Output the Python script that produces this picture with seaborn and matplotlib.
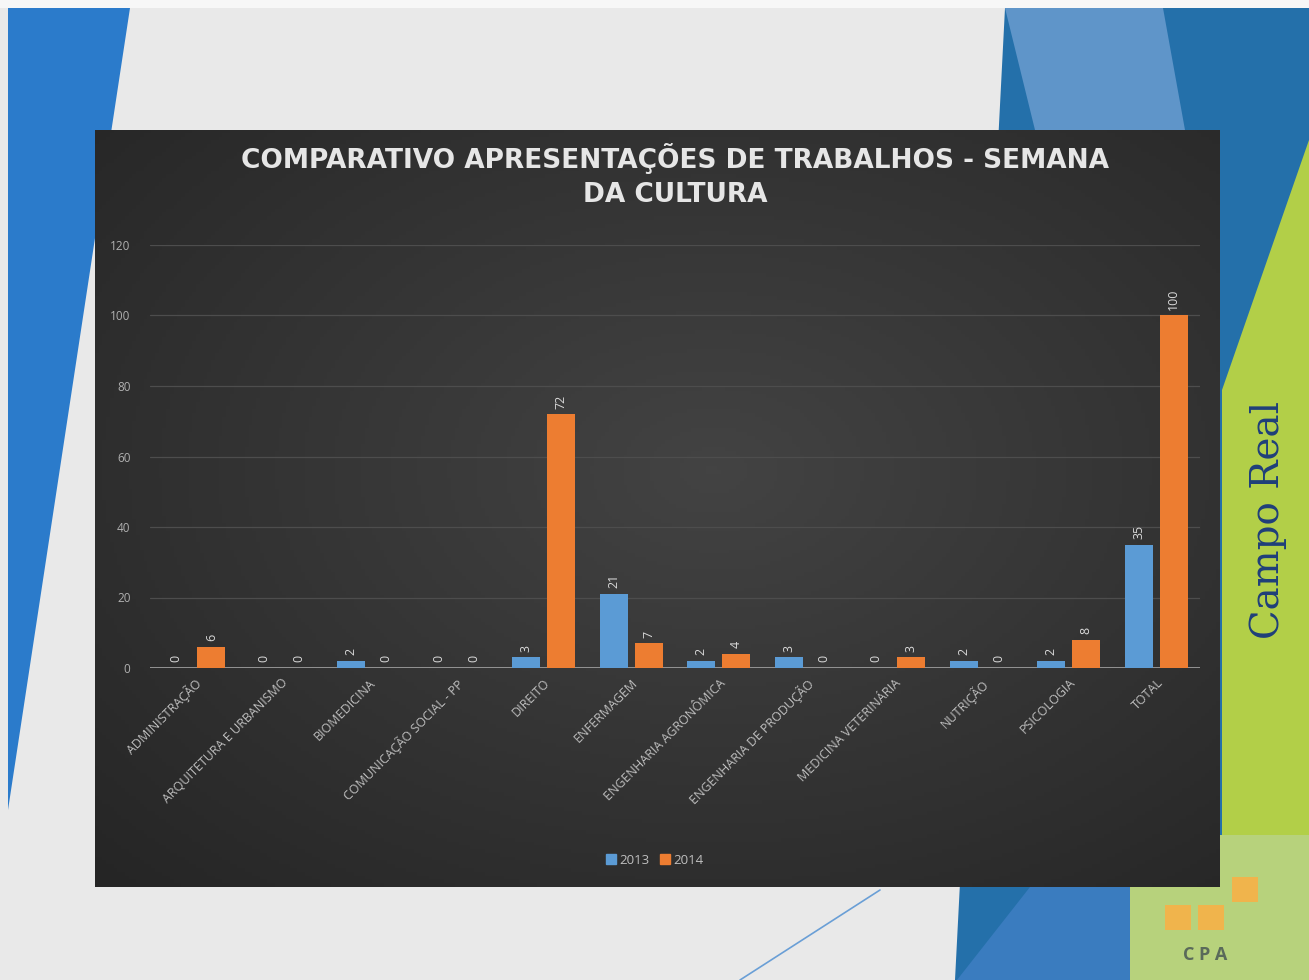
import numpy as np
import pandas as pd
import matplotlib
matplotlib.use('Agg')
import matplotlib.pyplot as plt
import seaborn as sns
from matplotlib.patches import Polygon, Rectangle
from matplotlib.lines import Line2D

# dados do gráfico
cursos = ['ADMINISTRAÇÃO', 'ARQUITETURA E URBANISMO', 'BIOMEDICINA',
          'COMUNICAÇÃO SOCIAL - PP', 'DIREITO', 'ENFERMAGEM',
          'ENGENHARIA AGRONÔMICA', 'ENGENHARIA DE PRODUÇÃO',
          'MEDICINA VETERINÁRIA', 'NUTRIÇÃO', 'PSICOLOGIA', 'TOTAL']
vals_2013 = [0, 0, 2, 0, 3, 21, 2, 3, 0, 2, 2, 35]
vals_2014 = [6, 0, 0, 0, 72, 7, 4, 0, 3, 0, 8, 100]
anos = ['2013', '2014']
cores = ['#5B9BD5', '#ED7D31']
y_ticks = [0, 20, 40, 60, 80, 100, 120]

df = pd.DataFrame({
    'curso': cursos * 2,
    'valor': vals_2013 + vals_2014,
    'ano': [anos[0]] * len(cursos) + [anos[1]] * len(cursos),
})

W, H = 1309, 980
def px(x, y):
    return (x / W, 1 - y / H)

def poly(pts, color):
    fig.patches.append(Polygon([px(*p) for p in pts], closed=True,
                               transform=fig.transFigure, facecolor=color,
                               edgecolor='none', zorder=0))

sns.set_theme(style='dark')
plt.rcParams['font.family'] = ['Open Sans', 'DejaVu Sans']

fig = plt.figure(figsize=(W / 100, H / 100), dpi=100)
fig.patch.set_facecolor('#e9e9e9')

# fundo do slide (decoração)
poly([(0, 0), (1309, 0), (1309, 8), (0, 8)], '#f7f7f7')
poly([(8, 8), (130, 8), (8, 810)], '#2b7bcb')
poly([(1005, 8), (1309, 8), (1309, 980), (955, 980)], '#2470aa')
poly([(1005, 8), (1163, 8), (1185, 130), (1035, 130)], '#5f95c9')
poly([(957, 980), (1030, 887), (1130, 887), (1130, 980)], '#3a7cbf')
poly([(1309, 140), (1222, 390), (1222, 835), (1309, 835)], '#b2cf48')
fig.patches.append(Rectangle(px(1130, 980), 179 / W, 145 / H,
                             transform=fig.transFigure,
                             facecolor='#b7d27c', edgecolor='none', zorder=0))
for (qx, qy) in [(1165, 905), (1198, 905), (1232, 877)]:
    fig.patches.append(Rectangle(px(qx, qy + 25), 26 / W, 25 / H,
                                 transform=fig.transFigure,
                                 facecolor='#f0b44c', edgecolor='none', zorder=0))
fig.lines.append(Line2D([880 / W, 740 / W], [1 - 890 / H, 1 - 980 / H],
                        transform=fig.transFigure, color='#6a9fd6', lw=1.2))
fig.text(1268 / W, 1 - 520 / H, 'Campo Real', rotation=90, ha='center', va='center',
         fontsize=28, family='DejaVu Serif', color='#1f3f7a')
fig.text(1205 / W, 1 - 955 / H, 'C P A', ha='center', va='center',
         fontsize=13, fontweight='bold', color='#5a6a5a')

# painel escuro do gráfico com gradiente
bg = fig.add_axes([95 / W, 1 - 887 / H, 1125 / W, 757 / H])
bg.set_zorder(1)
yy, xx = np.mgrid[0:1:200j, 0:1:300j]
dist = np.sqrt(((xx - 0.55) / 0.9) ** 2 + ((yy - 0.55) / 0.9) ** 2)
grad = np.clip(1 - dist, 0, 1)
bg.imshow(grad, cmap=sns.blend_palette(['#252525', '#434343'], as_cmap=True),
          aspect='auto', extent=[0, 1, 0, 1], origin='lower')
bg.set_axis_off()

ax = fig.add_axes([150 / W, 1 - 668 / H, 1050 / W, 423 / H])
ax.set_zorder(2)
ax.set_facecolor('none')

sns.barplot(data=df, x='curso', y='valor', hue='ano', palette=cores,
            width=0.8, gap=0.2, ax=ax, legend=False, saturation=1,
            edgecolor='none', linewidth=0)

for cont in ax.containers:
    ax.bar_label(cont, rotation=90, padding=4, fontsize=9, color='#d9d9d9')

ax.set_ylim(0, 120)
ax.set_xlim(-0.5, len(cursos) - 0.5)
ax.set_yticks(y_ticks)
ax.yaxis.grid(True, color='#4d4d4d', lw=0.9)
ax.xaxis.grid(False)
ax.axhline(0, color='#a6a6a6', lw=1.3, zorder=0.5)
for s in ax.spines.values():
    s.set_visible(False)
ax.tick_params(axis='y', labelsize=8.5, colors='#b0b0b0', length=0, pad=14)
ax.tick_params(axis='x', labelsize=9, colors='#bfbfbf', length=0, pad=6)
plt.setp(ax.get_xticklabels(), rotation=45, ha='right', rotation_mode='anchor')
ax.set_xlabel('')
ax.set_ylabel('')

handles = [Rectangle((0, 0), 1, 1, color=c) for c in cores]
leg = fig.legend(handles, anos, loc='center', bbox_to_anchor=(655 / W, 1 - 860 / H),
                 ncol=2, frameon=False, fontsize=9.5, labelcolor='#bfbfbf',
                 handlelength=0.7, handleheight=0.7, columnspacing=0.8,
                 handletextpad=0.3)
leg.set_zorder(3)

fig.text(675 / W, 1 - 175 / H,
         'COMPARATIVO APRESENTAÇÕES DE TRABALHOS - SEMANA\nDA CULTURA',
         ha='center', va='center', fontsize=19, fontweight='bold',
         family='DejaVu Sans', color='#e6e6e6', linespacing=1.4, zorder=3)

fig.savefig('out.png', dpi=100)
plt.close(fig)
